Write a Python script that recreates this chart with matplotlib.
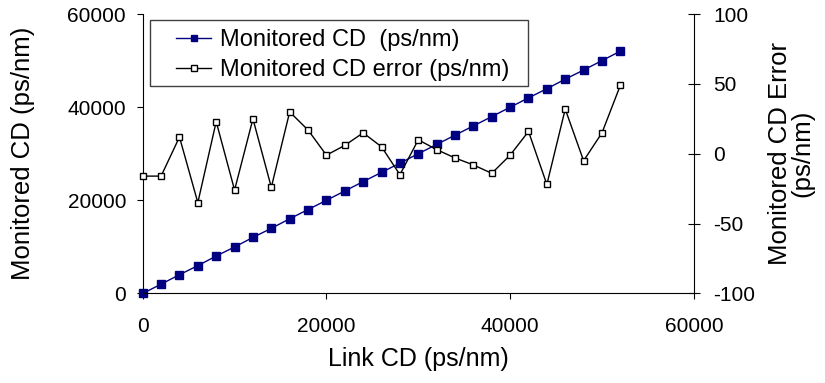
import numpy as np
import matplotlib
matplotlib.use('Agg')
import matplotlib.pyplot as plt
from matplotlib.patches import Rectangle

plt.rcParams['font.family'] = ['Liberation Sans', 'DejaVu Sans']
plt.rcParams['axes.unicode_minus'] = False

link_cd = [0, 2000, 4000, 6000, 8000, 10000, 12000, 14000, 16000, 18000,
           20000, 22000, 24000, 26000, 28000, 30000, 32000, 34000, 36000,
           38000, 40000, 42000, 44000, 46000, 48000, 50000, 52000]
monitored_cd = [-16, 1984, 4012, 5965, 8023, 9974, 12025, 13976, 16030, 18017,
                19999, 22006, 24015, 26005, 27985, 30010, 32003, 33997, 35992,
                37986, 39999, 42016, 43978, 46032, 47995, 50015, 52049]
cd_error = [-16, -16, 12, -35, 23, -26, 25, -24, 30, 17, -1, 6, 15, 5, -15,
            10, 3, -3, -8, -14, -1, 16, -22, 32, -5, 15, 49]

W, H = 825, 383
fig = plt.figure(figsize=(W / 100, H / 100), dpi=100)
ax = fig.add_axes([0.173, 0.234, 0.668, 0.729])
ax2 = ax.twinx()

l1, = ax.plot(link_cd, monitored_cd, color='#000080', lw=1, marker='s',
              ms=5.2, mfc='#000080', mec='#000080', clip_on=False)
l2, = ax2.plot(link_cd, cd_error, color='black', lw=1, marker='s',
               ms=5, mfc='white', mec='black', mew=1, clip_on=False)

ax.set_xlim(0, 60000)
ax.set_ylim(0, 60000)
ax2.set_ylim(-100, 100)
ax.set_xticks([0, 20000, 40000, 60000])
ax.set_yticks([0, 20000, 40000, 60000])
ax2.set_yticks([-100, -50, 0, 50, 100])

for a in (ax, ax2):
    a.spines['top'].set_visible(False)
    for s in a.spines.values():
        s.set_linewidth(0.8)
ax.spines['right'].set_visible(False)
ax2.spines['left'].set_visible(False)
ax2.spines['bottom'].set_visible(False)

ax.tick_params(axis='x', direction='out', length=4, pad=13, labelsize=15)
ax.tick_params(axis='y', direction='out', length=4, pad=8, labelsize=15)
ax2.tick_params(axis='y', direction='inout', length=8, pad=10, labelsize=15)

ax.set_xlabel('Link CD (ps/nm)', fontsize=18, labelpad=8)
ax.set_ylabel('Monitored CD (ps/nm)', fontsize=18.5, labelpad=23)
ax2.set_ylabel('Monitored CD Error\n(ps/nm)', fontsize=18.5, labelpad=9,
               linespacing=0.95)

# legend frame drawn separately so the handles can sit indented like the original
fig.patches.append(Rectangle((150 / W, 1 - 86 / H), 378 / W, 66 / H,
                             transform=fig.transFigure, fill=True, fc='white',
                             ec='#404040', lw=1, zorder=5))
leg = fig.legend([l1, l2], ['Monitored CD  (ps/nm)', 'Monitored CD error (ps/nm)'],
                 loc='upper left', bbox_to_anchor=(176 / W, 1 - 29 / H),
                 fontsize=17, frameon=False, borderaxespad=0, borderpad=0,
                 handlelength=1.5, handletextpad=0.35, labelspacing=0.35,
                 markerscale=0.8)
leg.set_zorder(6)

plt.savefig('out.png', dpi=100)
